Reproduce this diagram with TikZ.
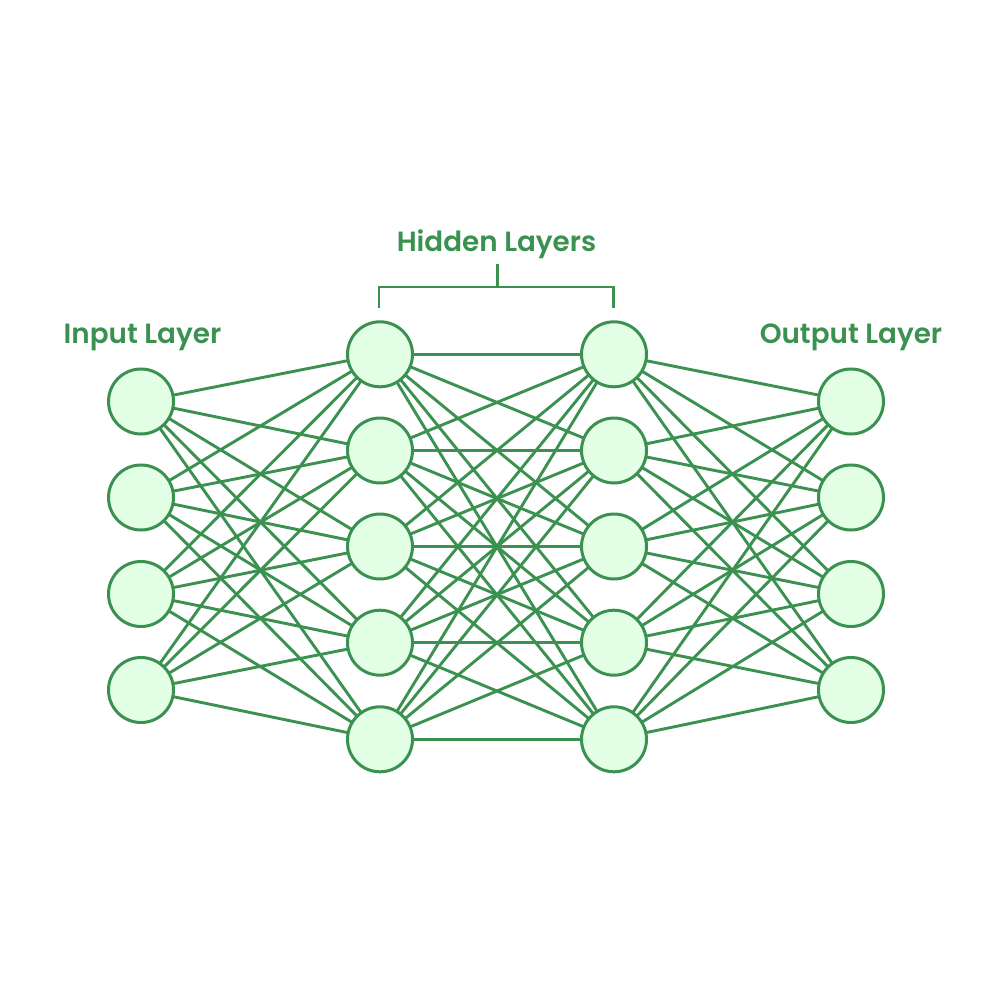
\documentclass[tikz,border=0pt]{standalone}
\usepackage{fontspec}
\setmainfont{Poppins SemiBold}
\definecolor{gline}{HTML}{3A9150}
\definecolor{gfill}{HTML}{E3FFE6}
\tikzset{
  x=1pt,y=-1pt,
  neuron/.style={circle,draw=gline,fill=gfill,line width=3pt,minimum size=65pt,inner sep=0pt,outer sep=0pt},
  link/.style={draw=gline,line width=2.9pt},
  caption/.style={text=gline,font=\fontsize{27.8}{31}\selectfont,inner sep=0pt}
}
\begin{document}
\begin{tikzpicture}
\useasboundingbox (0,0) rectangle (1000,1000);
\fill[white] (0,0) rectangle (1000,1000);
\foreach \i/\y in {1/401.5,2/497.5,3/594,4/690}{
  \node[neuron] (ni\i) at (141,\y) {};
  \node[neuron] (no\i) at (851,\y) {};
}
\foreach \i/\y in {1/354.3,2/450.5,3/546.5,4/642.7,5/739.3}{
  \node[neuron] (na\i) at (380,\y) {};
  \node[neuron] (nb\i) at (614,\y) {};
}
\foreach \i in {1,...,4}\foreach \j in {1,...,5}{
  \draw[link] (ni\i) -- (na\j);
  \draw[link] (nb\j) -- (no\i);
}
\foreach \i in {1,...,5}\foreach \j in {1,...,5}{
  \draw[link] (na\i) -- (nb\j);
}
\node[caption] (tin) at (142.5,337) {Input Layer};
\node[caption] (tout) at (851,337) {Output Layer};
\node[caption] (thid) at (496.5,244) {Hidden Layers};
\coordinate (bl) at (379,308);
\coordinate (br) at (613.5,308);
\coordinate (bt) at (497.5,264);
\coordinate (bm) at (497.5,287);
\draw[link] (bl) |- (bm) -| (br);
\draw[link] (bt) -- (bm);
\end{tikzpicture}
\end{document}
